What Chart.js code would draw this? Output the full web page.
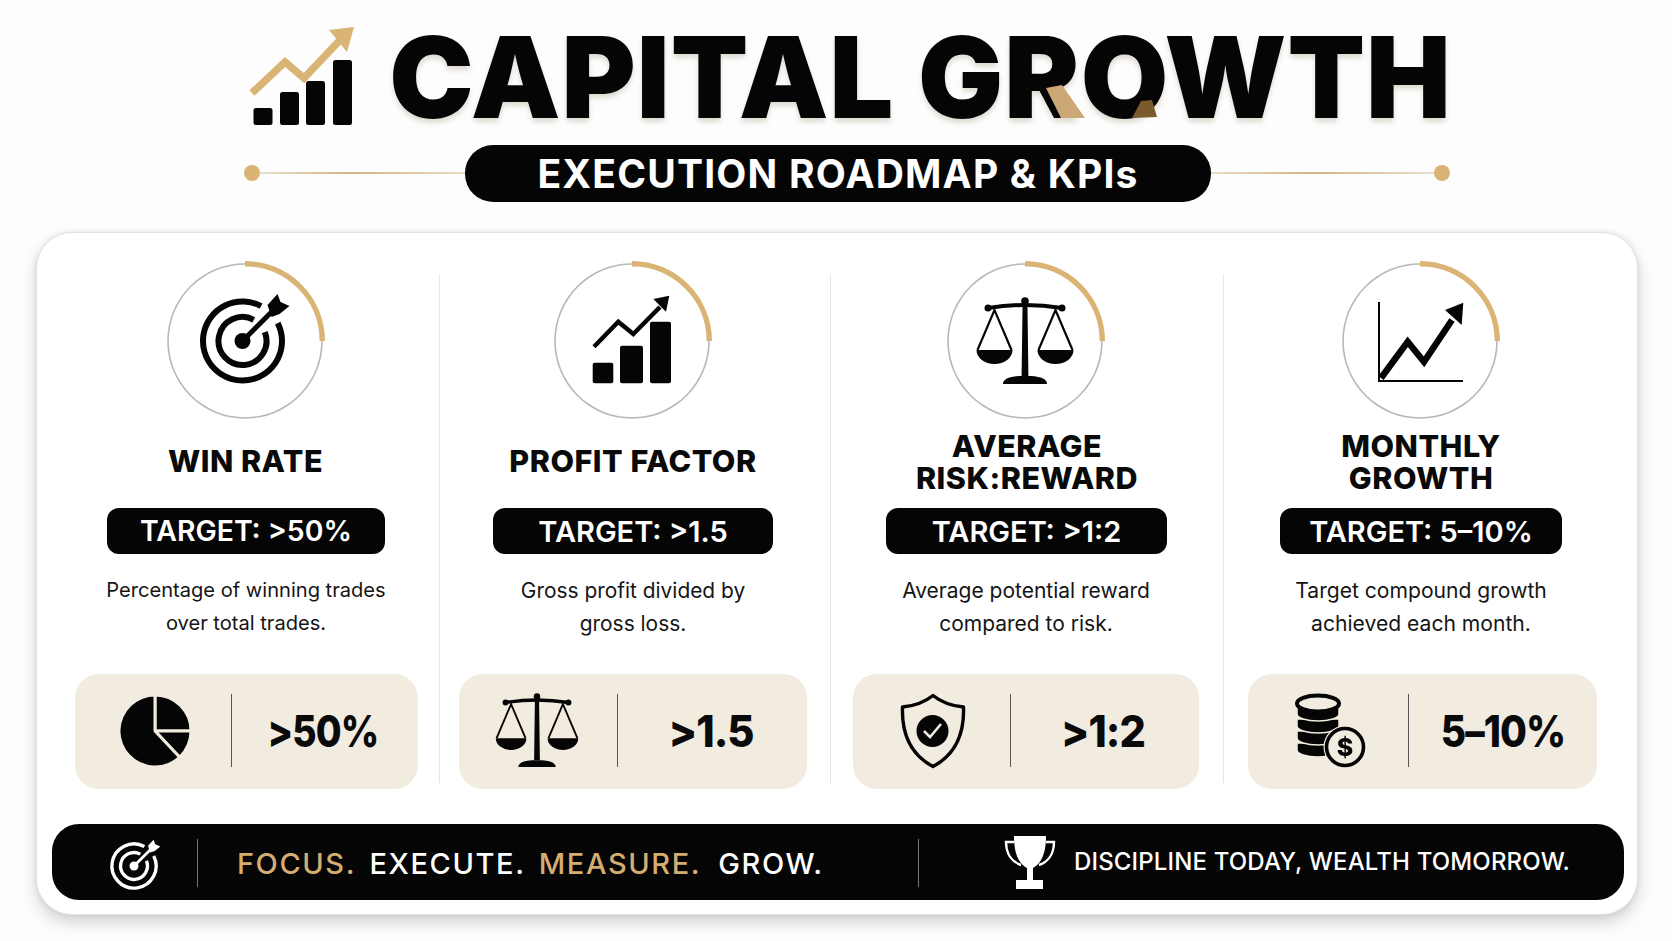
<!DOCTYPE html>
<html><head><meta charset="utf-8">
<script src="https://cdn.jsdelivr.net/npm/chart.js@4"></script>
<style>
html,body{margin:0;padding:0;background:#fdfdfd;width:1672px;height:941px;overflow:hidden;font-family:Inter,"Noto Sans",sans-serif;color:#0a0a0a}
#stage{position:relative;width:1672px;height:941px;overflow:hidden}
.abs{position:absolute}
.t{position:absolute;transform:translate(-50%,-50%);white-space:pre;text-align:center}
canvas{position:absolute}
svg{position:absolute;left:0;top:0}
</style></head><body>
<div id="stage"></div>
<script>
// ---- data ----
const kpiNames = ["WIN RATE","PROFIT FACTOR","AVERAGE\nRISK:REWARD","MONTHLY\nGROWTH"];
const kpiTargets = ["TARGET: >50%","TARGET: >1.5","TARGET: >1:2","TARGET: 5–10%"];
const kpiDescriptions = [
  "Percentage of winning trades\nover total trades.",
  "Gross profit divided by\ngross loss.",
  "Average potential reward\ncompared to risk.",
  "Target compound growth\nachieved each month."];
const kpiValues = [">50%",">1.5",">1:2","5–10%"];
const gaugeFilled = [25,25,25,25];
const gaugeRemainder = [75,75,75,75];
const pieShares = [25,13,62];
const pageTitle = "CAPITAL GROWTH";
const pageSubtitle = "EXECUTION ROADMAP & KPIs";
const footerWords = ["FOCUS.","EXECUTE.","MEASURE.","GROW."];
const footerTagline = "DISCIPLINE TODAY, WEALTH TOMORROW.";

// ---- layout ----
const GOLD="#d9b474", PANEL="#f1ebe0";
const gaugeX=[245,632,1025,1420], gaugeY=341;
const nameX=[245.5,633,1027,1421];
const pillBox=[[107,385],[493,773],[886,1167],[1280,1562]];
const panelBox=[[75,418],[459,807],[853,1199],[1248,1597]];
const panelSep=[231,617,1010,1408];
const valueX=[323,711,1103,1502.5];
const valueSqueeze=[.85,.95,.94,.885];
const descSize=[20.1,20.9,21,21.1];
const colSep=[438.5,829.5,1222.5];
const footerX=[296.5,447.5,620,771];
const stage=document.getElementById('stage');

function box(x,y,w,h,css){const d=document.createElement('div');d.className='abs';
  d.style.cssText=`left:${x}px;top:${y}px;width:${w}px;height:${h}px;${css}`;stage.appendChild(d);return d;}
function text(s,x,y,size,weight,color,extra=''){const d=document.createElement('div');d.className='t';d.textContent=s;
  d.style.cssText=`left:${x}px;top:${y}px;font-size:${size}px;font-weight:${weight};color:${color};line-height:1;${extra}`;stage.appendChild(d);return d;}

// card
box(36,232,1602,683,'box-sizing:border-box;background:#fff;border-radius:36px;border:1px solid #e2e2e2;box-shadow:0 8px 16px rgba(0,0,0,.16),0 0 6px rgba(0,0,0,.08)');
// header
text(pageTitle,920.5,77,113,900,'#050505','letter-spacing:1px;text-shadow:0 4px 5px rgba(120,100,60,.22)');
box(465,145,746,57,'background:#050505;border-radius:28px');
text(pageSubtitle,838,172.5,39,700,'#fff','letter-spacing:1.2px');
box(258,172,207,2,'background:linear-gradient(90deg,#e8e0d0,#d3b47e 45%,#e8dcc4)');
box(1211,172,225,2,'background:linear-gradient(90deg,#e8dcc4,#d3b47e 45%,#e8e0d0)');
// column separators
colSep.forEach(x=>box(x,274,1.5,509,'background:#e6e6e6'));
// kpi columns
kpiNames.forEach((s,i)=>{
  const multi=s.includes('\n');
  text(s,nameX[i],multi?462:461,30.5,800,'#0a0a0a','letter-spacing:.5px;line-height:32px');
  box(pillBox[i][0],508,pillBox[i][1]-pillBox[i][0],46,'background:#050505;border-radius:12px');
  text(kpiTargets[i],(pillBox[i][0]+pillBox[i][1])/2,531,i===0?28.4:29,600,'#fff');
  text(kpiDescriptions[i],gaugeX[i]+1,607,descSize[i],400,'#151515','line-height:33px');
  box(panelBox[i][0],674,panelBox[i][1]-panelBox[i][0],115,`background:${PANEL};border-radius:24px`);
  box(panelSep[i],694,1.2,73,'background:#555');
  text(kpiValues[i],valueX[i],731,44,800,'#0a0a0a',`letter-spacing:-1px;transform:translate(-50%,-50%) scaleX(${valueSqueeze[i]})`);
});
// footer bar
box(52,824,1572,76,'background:#050505;border-radius:27px');
box(197,839,1.2,48,'background:#777');
box(918,839,1.2,48,'background:#777');
footerWords.forEach((w,i)=>text(w,footerX[i],863,29,500,i%2===0?'#d3ae70':'#fff','letter-spacing:1.6px'));
text(footerTagline,1322,862,24,500,'#fff','letter-spacing:.15px');

// ---- charts: gauges and pie drawn by Chart.js ----
function doughnut(cx,cy,size,values,colors,radius,inner,extra={}){
  const c=document.createElement('canvas');c.width=size;c.height=size;
  c.style.left=(cx-size/2)+'px';c.style.top=(cy-size/2)+'px';c.style.width=size+'px';c.style.height=size+'px';
  stage.appendChild(c);
  return new Chart(c,{type:extra.type||'doughnut',data:{labels:values.map((_,i)=>String(i)),datasets:[{data:values,backgroundColor:colors,
    borderWidth:extra.borderWidth||0,borderColor:extra.borderColor||'transparent'}]},
    options:{responsive:false,animation:false,radius:radius,cutout:(inner/radius*100)+'%',rotation:0,circumference:360,
      layout:{padding:0},plugins:{legend:{display:false},tooltip:{enabled:false}},events:[]}});
}
gaugeX.forEach((cx,i)=>{
  doughnut(cx,gaugeY,176,[gaugeFilled[i]+gaugeRemainder[i]],['#b8b8b8'],77.8,76.2);
  doughnut(cx,gaugeY,176,[gaugeFilled[i],gaugeRemainder[i]],[GOLD,'rgba(0,0,0,0)'],80,74.6);
});
doughnut(155,730.5,80,pieShares,['#050505','#050505','#050505'],36,0,{type:'pie',borderWidth:3,borderColor:PANEL});

// ---- icons ----
const NS='http://www.w3.org/2000/svg';
const svg=document.createElementNS(NS,'svg');svg.setAttribute('width',1672);svg.setAttribute('height',941);
stage.appendChild(svg);
function el(n,a){const e=document.createElementNS(NS,n);for(const k in a)e.setAttribute(k,a[k]);svg.appendChild(e);return e;}
const poly=(pts,fill)=>el('polygon',{points:pts,fill});
const line=(pts,stroke,w,join='miter')=>el('polyline',{points:pts,fill:'none',stroke,'stroke-width':w,'stroke-linejoin':join});
function arc(cx,cy,r,a0,a1){const p=a=>[cx+r*Math.cos(a*Math.PI/180),cy+r*Math.sin(a*Math.PI/180)];
  const [x0,y0]=p(a0),[x1,y1]=p(a1);return `M${x0} ${y0}A${r} ${r} 0 ${(a1-a0)%360>180?1:0} 1 ${x1} ${y1}`;}
function target(cx,cy,s,col){
  el('path',{d:arc(cx,cy,39.5*s,-27,298),fill:'none',stroke:col,'stroke-width':6*s});
  el('path',{d:arc(cx,cy,24*s,-22,298),fill:'none',stroke:col,'stroke-width':6*s});
  el('circle',{cx,cy,r:8*s,fill:col});
  line(`${cx},${cy} ${cx+30*s},${cy-30*s}`,col,5*s);
  poly(`${cx+25*s},${cy-36*s} ${cx+35*s},${cy-47*s} ${cx+38*s},${cy-39*s} ${cx+47*s},${cy-35*s} ${cx+37*s},${cy-27*s} ${cx+29*s},${cy-24*s}`,col);
}
function scales(cx,top,s,col){
  const X=d=>cx+d*s,Y=d=>top+d*s;
  el('path',{d:`M${X(-2.4)} ${Y(4)}L${X(2.4)} ${Y(4)}L${X(3.4)} ${Y(78)}L${X(-3.4)} ${Y(78)}Z`,fill:col});
  el('circle',{cx:X(0),cy:Y(3),r:3.8*s,fill:col});
  el('path',{d:`M${X(-37)} ${Y(10)}Q${X(0)} ${Y(4)} ${X(37)} ${Y(10)}`,fill:'none',stroke:col,'stroke-width':4*s});
  [-37,37].forEach(d=>el('circle',{cx:X(d),cy:Y(10),r:3.5*s,fill:col}));
  [-1,1].forEach(m=>{
    const cxp=m*30.5;
    el('path',{d:`M${X(cxp-17)} ${Y(52)}L${X(cxp)} ${Y(12)}L${X(cxp+17)} ${Y(52)}`,fill:'none',stroke:col,'stroke-width':2.2*s});
    el('path',{d:`M${X(cxp-18)} ${Y(52)}L${X(cxp+18)} ${Y(52)}A${18*s} ${14*s} 0 0 1 ${X(cxp-18)} ${Y(52)}Z`,fill:col});
  });
  el('path',{d:`M${X(-22)} ${Y(86)}Q${X(-22)} ${Y(79)} ${X(-6)} ${Y(78)}L${X(6)} ${Y(78)}Q${X(22)} ${Y(79)} ${X(22)} ${Y(86)}Z`,fill:col});
}
// header logo
[[253.5,108],[280,92],[306,81],[333,60]].forEach(([x,y])=>el('rect',{x,y,width:19,height:125-y,rx:2.5,fill:'#050505'}));
line('252,93 285,62 304,78 342,38',GOLD,7.5);
poly('354,27 329,30 347,52',GOLD);
// header dots
el('circle',{cx:252,cy:173,r:8,fill:GOLD});el('circle',{cx:1442,cy:173,r:8,fill:GOLD});
// gold fleck over the R and O of the title
poly('1046,88 1062,85 1085,118 1061,118','#cda877');
poly('1132,118 1141,101 1152,100 1157,117','#7a5a2e');
// gauge icons
target(242.5,341,1,'#050505');
[[592.7,362.7,20.6,20.6],[620,345.7,23,37.6],[650,321.7,21,61.6]].forEach(([x,y,w,h])=>el('rect',{x,y,width:w,height:h,rx:2,fill:'#050505'}));
line('594,346.7 618.3,321.7 633.3,334 660,307','#050505',4.5);
poly('669.3,295.7 653.3,299 666,311.7','#050505');
scales(1025,298,1,'#050505');
line('1379,302 1379,381 1463,381','#050505',2);
line('1381,378 1407.7,341.7 1424,361.7 1452,320','#050505',6.5);
poly('1463.3,302.7 1445,310 1461.7,325','#050505');
// panel icons
scales(537,694,.85,'#050505');
el('path',{d:'M933 695.5C925 702 913 706 902.5 707C901.5 735 911 755 933 766.5C955 755 964.5 735 963.5 707C953 706 941 702 933 695.5Z',fill:'none',stroke:'#050505','stroke-width':3.4,'stroke-linejoin':'round'});
el('circle',{cx:932.5,cy:731,r:16,fill:'#050505'});
line('924,731 930,737 941,724','#f1ebe0',2.6);
// coins
[743,731,719,707].forEach(y=>{
  el('path',{d:`M1297 ${y}V${y+7}A21 7 0 0 0 1339 ${y+7}V${y}Z`,fill:'#050505',stroke:PANEL,'stroke-width':1.5});
});
el('ellipse',{cx:1318,cy:703.5,rx:21,ry:8,fill:PANEL,stroke:'#050505','stroke-width':4});
el('circle',{cx:1345,cy:747,r:21.5,fill:PANEL});
el('circle',{cx:1345,cy:747,r:18.5,fill:PANEL,stroke:'#050505','stroke-width':3.6});
const d=el('text',{x:1345,y:756,'text-anchor':'middle','font-size':25,'font-weight':800,'font-family':'Inter',fill:'#050505'});d.textContent='$';
// footer icons
target(134,866,.56,'#fff');
el('path',{d:'M1014 836H1046C1046 856 1040 864 1033 868V880H1043V889H1016V880H1027V868C1020 864 1014 856 1014 836Z',fill:'#fff'});
el('path',{d:'M1014 842H1006C1006 854 1012 862 1021 865M1046 842H1054C1054 854 1048 862 1039 865',fill:'none',stroke:'#fff','stroke-width':2.4});
</script>
</body></html>
